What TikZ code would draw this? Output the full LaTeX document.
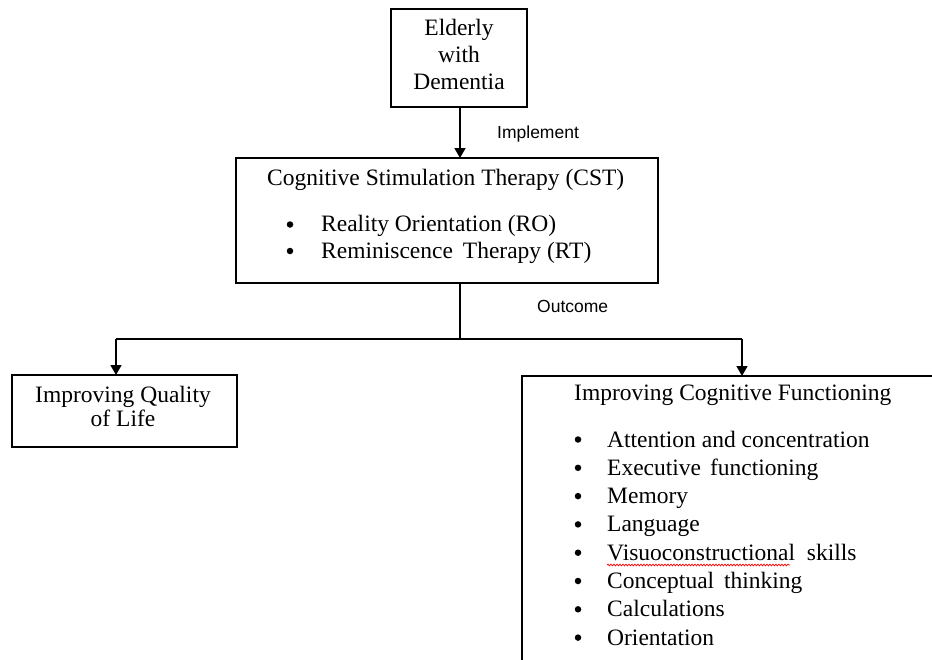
\documentclass[tikz,border=0pt]{standalone}
\usepackage{fontspec}
\setmainfont{Liberation Serif}
\newfontfamily\labelfont{Liberation Sans}
\usetikzlibrary{arrows.meta,decorations.pathmorphing}
\begin{document}
\begin{tikzpicture}[x=1pt,y=-1pt,
  box/.style={draw,line width=1.5pt,rectangle,inner sep=0,outer sep=0,anchor=north west},
  txt/.style={inner sep=0,anchor=base west,font=\fontsize{23.5}{28}\selectfont},
  ctxt/.style={inner sep=0,anchor=base,font=\fontsize{23.5}{28}\selectfont},
  lbl/.style={inner sep=0,anchor=base west,font=\labelfont\fontsize{17.5}{20}\selectfont},
  conn/.style={line width=1.5pt},
  arr/.style={conn,-{Triangle[width=11pt,length=10pt]}},
  bul/.style={circle,fill,inner sep=0,minimum size=6.5pt}]
\useasboundingbox (0,0) rectangle (932,659);
\clip (0,0) rectangle (932,659);
\fill[white] (0,0) rectangle (932,659);

% boxes
\node[box,minimum width=136pt,minimum height=98pt] (eld) at (391,9) {};
\node[box,minimum width=422pt,minimum height=125pt] (cst) at (236,158) {};
\node[box,minimum width=225pt,minimum height=72pt] (qol) at (12,375) {};
\node[box,minimum width=480pt,minimum height=320pt] (cog) at (522,376) {};

% top box text
\node[ctxt] (t1) at (459,35) {Elderly};
\node[ctxt] (t2) at (459,62) {with};
\node[ctxt] (t3) at (459,89) {Dementia};

% CST text
\node[txt] (c0) at (267,185) {Cognitive Stimulation Therapy (CST)};
\node[bul] (cb1) at (290,224.5) {};
\node[txt] (c1) at (321,231.5) {Reality Orientation (RO)};
\node[bul] (cb2) at (290,251) {};
\node[txt] (c2) at (321,258) {Reminiscence\hspace{4pt} Therapy (RT)};

% left box
\node[ctxt] (q1) at (123,402) {Improving Quality};
\node[ctxt] (q2) at (123,426) {of Life};

% right box
\node[txt] (g0) at (574,400) {Improving Cognitive Functioning};
\foreach \i/\t in {0/{Attention and concentration},1/{Executive\hspace{3pt} functioning},2/{Memory},3/{Language},4/{Visuoconstructional\hspace{6pt} skills},5/{Conceptual\hspace{4pt} thinking},6/{Calculations},7/{Orientation}}{
  \node[bul] (gb\i) at (578,{439.5+28.3*\i}) {};
  \node[txt] (g\i) at (607,{447+28.3*\i}) {\t};
}
\draw[red,line width=0.7pt,decorate,decoration={snake,amplitude=0.9pt,segment length=3pt}] (607,565) -- (790,565);

% labels
\node[lbl] (impl) at (497,138) {Implement};
\node[lbl] (outc) at (537,312) {Outcome};

% connectors
\coordinate (split) at (460,339);
\coordinate (jl) at (116,339);
\coordinate (jr) at (742,339);
\draw[arr] (split |- eld.south) -- (split |- cst.north);
\draw[conn] (split |- cst.south) -- (split);
\draw[conn] (jl) -- (jr);
\draw[arr] (jl) -- (jl |- qol.north);
\draw[arr] (jr) -- (jr |- cog.north);
\end{tikzpicture}
\end{document}
